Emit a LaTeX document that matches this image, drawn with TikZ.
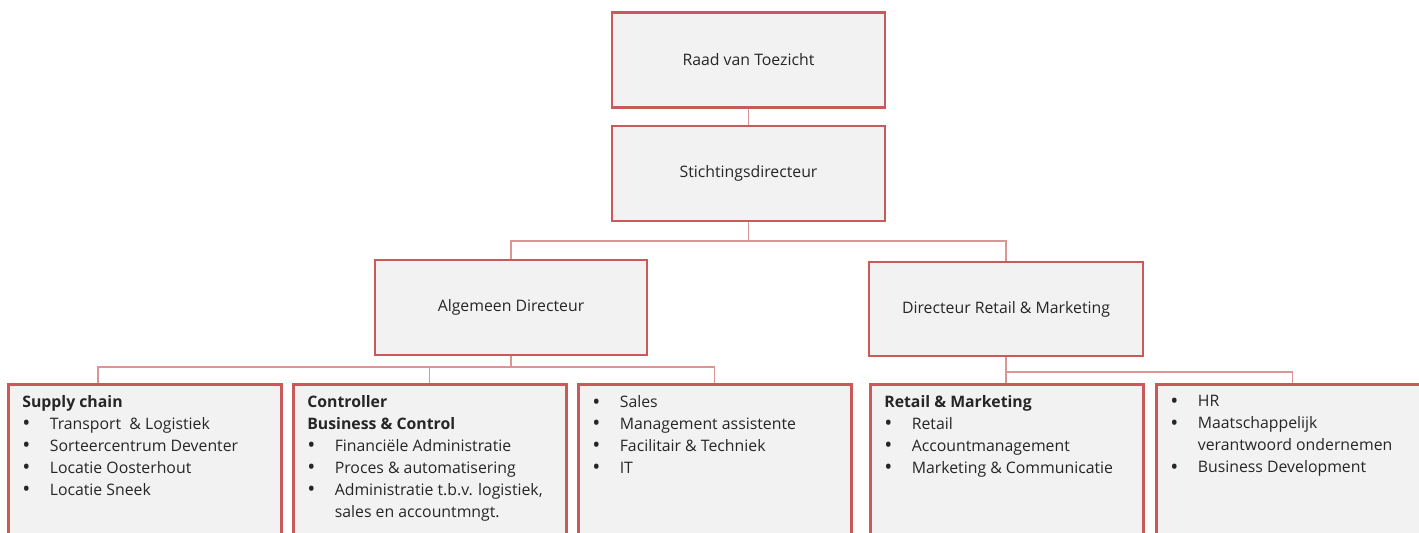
\documentclass[tikz,border=0pt]{standalone}
\usepackage{fontspec}
\setmainfont{Open Sans}
\usetikzlibrary{positioning}
\definecolor{boxred}{HTML}{C95A5A}
\definecolor{boxfill}{HTML}{F2F2F2}
\definecolor{txtgray}{HTML}{262626}
\newcommand{\itm}{\makebox[0.55cm][l]{\raisebox{-0.2ex}{\scalebox{1.35}{\textbullet}}}}
\newcommand{\cnt}{\hspace*{0.55cm}}
\newcommand{\unittext}[1]{\parbox[t][2.8cm][t]{4.9cm}{\raggedright #1}}

\begin{document}
\begin{tikzpicture}
[font=\fontsize{9}{12.5}\selectfont,text=txtgray,
 post/.style={draw=boxred,fill=boxfill,line width=1.5pt,minimum width=5.46cm,minimum height=1.9cm,inner sep=0pt},
 unit/.style={post,anchor=north west,inner xsep=0.28cm,inner ysep=0.22cm},
 link/.style={draw=boxred!65,line width=0.7pt}]
\useasboundingbox (0,0) rectangle (28.38,-10.66);
\clip (0,0) rectangle (28.38,-10.66);

% top of the chart
\node[post] (raad) at (14.97,-1.20) {Raad van Toezicht};
\node[post] (stichting) at (14.97,-3.47) {Stichtingsdirecteur};
\node[post,minimum width=5.44cm] (algemeen) at (10.22,-6.15) {Algemeen Directeur};
\node[post,minimum width=5.48cm,minimum height=1.88cm] (retail) at (20.12,-6.18) {Directeur Retail \& Marketing};

% units
\node[unit] (supply) at (0.14,-7.66) {\unittext{%
  \textbf{Supply chain}\\
  \itm Transport~ \& Logistiek\\
  \itm Sorteercentrum Deventer\\
  \itm Locatie Oosterhout\\
  \itm Locatie Sneek}};
\node[unit] (controller) at (5.84,-7.66) {\unittext{%
  \textbf{Controller}\\
  \textbf{Business \& Control}\\
  \itm Financiële Administratie\\
  \itm Proces \& automatisering\\
  \itm Administratie t.b.v. logistiek,\\
  \cnt sales en accountmngt.}};
\node[unit] (sales) at (11.54,-7.66) {\unittext{%
  \itm Sales\\
  \itm Management assistente\\
  \itm Facilitair \& Techniek\\
  \itm IT}};
\node[unit] (marketing) at (17.38,-7.66) {\unittext{%
  \textbf{Retail \& Marketing}\\
  \itm Retail\\
  \itm Accountmanagement\\
  \itm Marketing \& Communicatie}};
\node[unit] (hr) at (23.10,-7.66) {\unittext{%
  \itm HR\\
  \itm Maatschappelijk\\
  \cnt verantwoord ondernemen\\
  \itm Business Development}};

% connectors
\coordinate (bustop) at (0,-4.82);
\coordinate (busalg) at (0,-7.34);
\coordinate (busretail) at (0,-7.44);
\draw[link] (raad.south) -- (stichting.north);
\draw[link] (stichting.south) -- (stichting.south |- bustop) -| (algemeen.north);
\draw[link] (stichting.south |- bustop) -| (retail.north);
\draw[link] (algemeen.south) -- (algemeen.south |- busalg) -| ([xshift=1.82cm]supply.north west);
\draw[link] (algemeen.south |- busalg) -| (controller.north);
\draw[link] (algemeen.south |- busalg) -| (sales.north);
\draw[link] (retail.south) -- (retail.south |- marketing.north);
\draw[link] (retail.south |- busretail) -| (hr.north);
\end{tikzpicture}
\end{document}
